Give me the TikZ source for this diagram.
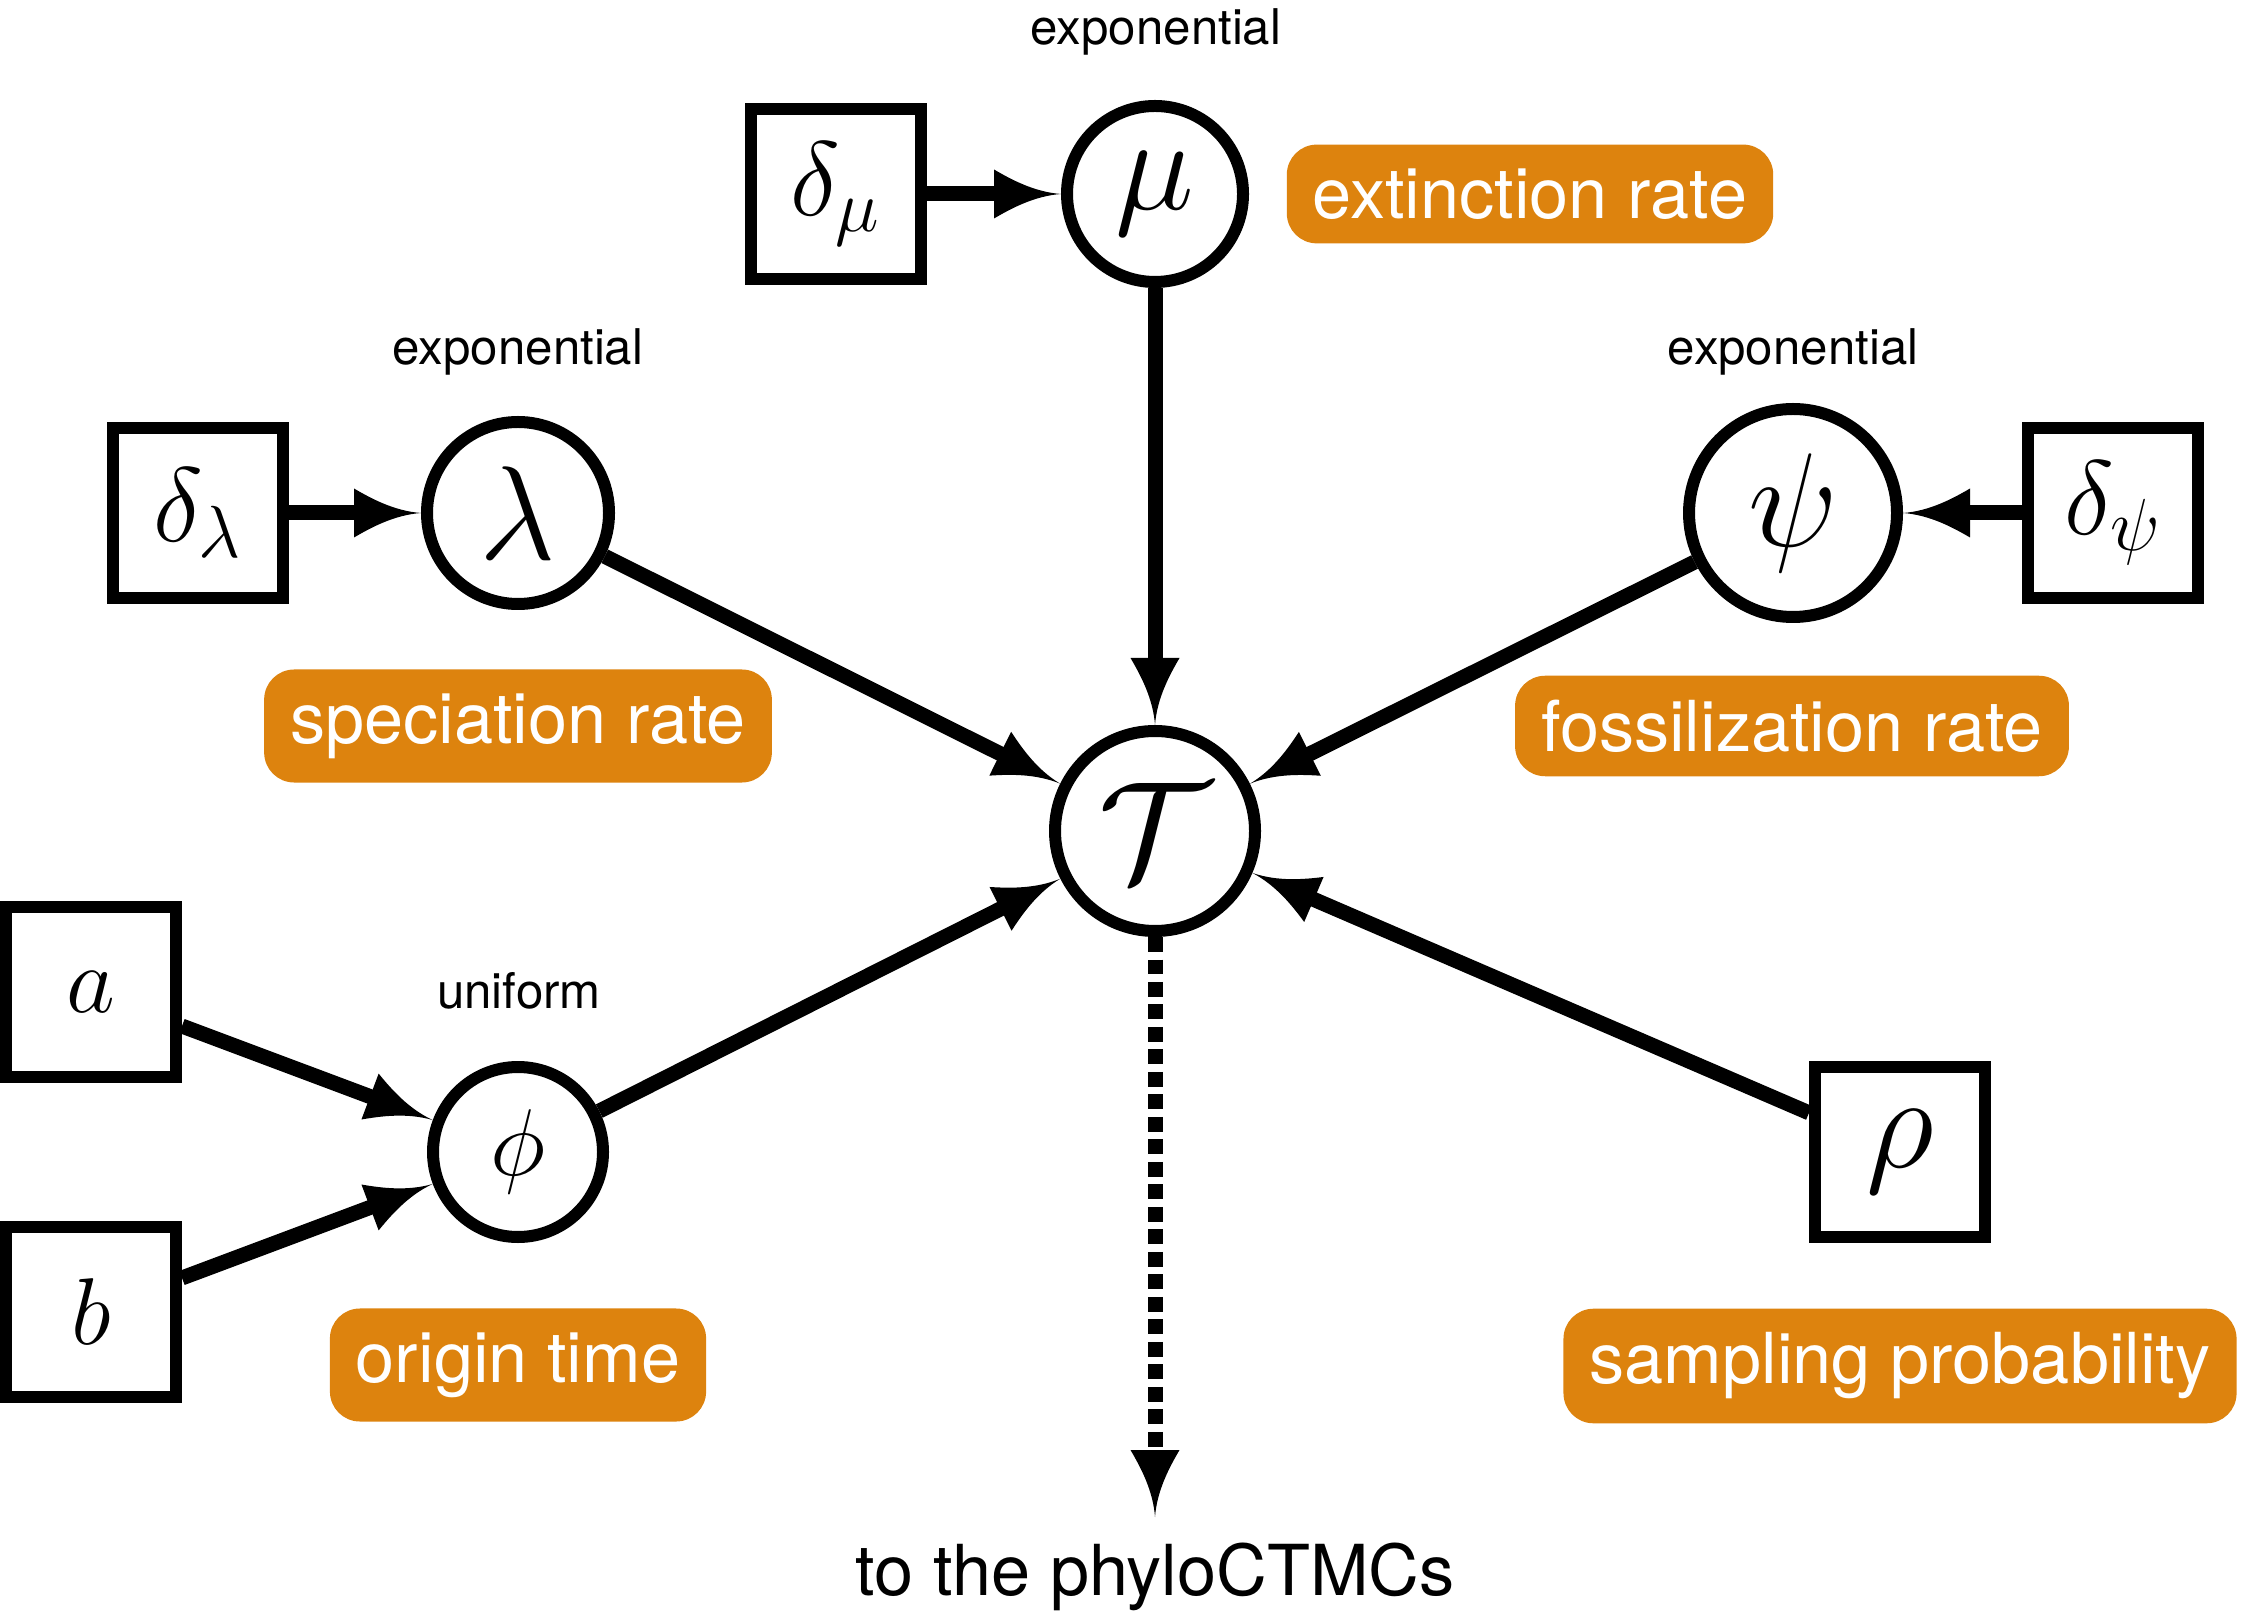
\RequirePackage{fix-cm}
\documentclass[tikz,border=0pt]{standalone}
\usepackage{fontspec}
\setsansfont{TeX Gyre Heros}
\usetikzlibrary{arrows.meta}

\definecolor{tagorange}{RGB}{221,131,14}

\pgfdeclarearrow{
	name = Spike,
	parameters = {\the\pgfarrowlength,\the\pgfarrowwidth},
	setup code = {
		\pgfarrowssettipend{0pt}
		\pgfarrowssetbackend{-\pgfarrowlength}
		\pgfarrowssetlineend{-0.6\pgfarrowlength}
		\pgfarrowssavethe\pgfarrowlength
		\pgfarrowssavethe\pgfarrowwidth
	},
	drawing code = {
		\pgfpathmoveto{\pgfpointorigin}
		\pgfpathcurveto{\pgfpoint{-0.4\pgfarrowlength}{0.04\pgfarrowwidth}}{\pgfpoint{-0.75\pgfarrowlength}{0.3\pgfarrowwidth}}{\pgfpoint{-\pgfarrowlength}{0.5\pgfarrowwidth}}
		\pgfpathlineto{\pgfpoint{-\pgfarrowlength}{-0.5\pgfarrowwidth}}
		\pgfpathcurveto{\pgfpoint{-0.75\pgfarrowlength}{-0.3\pgfarrowwidth}}{\pgfpoint{-0.4\pgfarrowlength}{-0.04\pgfarrowwidth}}{\pgfpointorigin}
		\pgfpathclose
		\pgfusepathqfill
	},
	defaults = {length = 0.67cm, width = 0.49cm}
}

\begin{document}
\begin{tikzpicture}[> = Spike,
	rv/.style = {circle, draw, line width = 0.12cm, inner sep = 0pt},
	fixed/.style = {rectangle, draw, line width = 0.12cm, inner sep = 0pt, minimum size = 1.7cm},
	note/.style = {fill = tagorange, text = white, rounded corners = 0.3cm, inner xsep = 0.26cm, inner ysep = 0.24cm, font = \sffamily\fontsize{20}{24}\selectfont},
	dist/.style = {anchor = base, font = \sffamily\fontsize{14}{17}\selectfont},
	bigmath/.style = {font = \fontsize{38}{42}\selectfont},
	midmath/.style = {font = \fontsize{30}{34}\selectfont},
	smallmath/.style = {font = \fontsize{27}{30}\selectfont}]

	\useasboundingbox (0, 0) rectangle (22.47, -16.15);

	% Tree
	
	\node [rv, minimum size = 2.0cm, font = \fontsize{40}{44}\selectfont] (tau) at (11.55, -8.31) {$\mathcal{T}$};
	
	% Extinction rate
	
	\node [rv, bigmath, minimum size = 1.76cm] (mu) at (11.55, -1.94) {$\mu$};
	\node [fixed, midmath] (dmu) at (8.355, -1.94) {$\delta_\mu$};
	\node [dist] (mudist) at (11.56, -0.45) {exponential};
	\node [note] (mulabel) at (15.30, -1.94) {extinction rate};
	
	% Speciation rate
	
	\node [rv, bigmath, minimum size = 1.82cm] (lambda) at (5.18, -5.13) {$\lambda$};
	\node [fixed, midmath] (dlambda) at (1.98, -5.13) {$\delta_\lambda$};
	\node [dist] (lambdadist) at (5.18, -3.65) {exponential};
	\node [note] (lambdalabel) at (5.18, -7.26) {speciation rate};
	
	% Fossilization rate
	
	\node [rv, bigmath, minimum size = 2.08cm] (psi) at (17.93, -5.13) {$\psi$};
	\node [fixed, midmath] (dpsi) at (21.13, -5.13) {$\delta_\psi$};
	\node [dist] (psidist) at (17.93, -3.65) {exponential};
	\node [note] (psilabel) at (17.92, -7.26) {fossilization rate};
	
	% Origin time
	
	\node [rv, smallmath, minimum size = 1.70cm] (phi) at (5.18, -11.52) {$\phi$};
	\node [fixed, smallmath] (a) at (0.91, -9.92) {$a$};
	\node [fixed, smallmath] (b) at (0.91, -13.12) {$b$};
	\node [dist] (phidist) at (5.19, -10.08) {uniform};
	\node [note] (philabel) at (5.18, -13.65) {origin time};
	
	% Sampling probability
	
	\node [fixed, bigmath] (rho) at (19.00, -11.52) {$\rho$};
	\node [note] (rholabel) at (19.00, -13.66) {sampling probability};
	
	% Output
	
	\coordinate (out) at (11.55, -15.17);
	\node [anchor = base, font = \sffamily\fontsize{20}{24}\selectfont] (outtext) at (11.55, -15.95) {to the phyloCTMCs};
	
	% Connections
	
	\begin{scope}[line width = 0.15cm, ->]
	
		\draw (dmu) -- (mu);
		\draw (dlambda) -- (lambda);
		\draw (dpsi) -- (psi);
		\draw (a) -- (phi);
		\draw (b) -- (phi);
		
		\draw (mu) -- (tau);
		\draw (lambda) -- (tau);
		\draw (psi) -- (tau);
		\draw (phi) -- (tau);
		\draw (rho) -- (tau);
		
		\draw [dash pattern = on 0.15cm off 0.075cm] (tau) -- (out);
	
	\end{scope}

\end{tikzpicture}
\end{document}
